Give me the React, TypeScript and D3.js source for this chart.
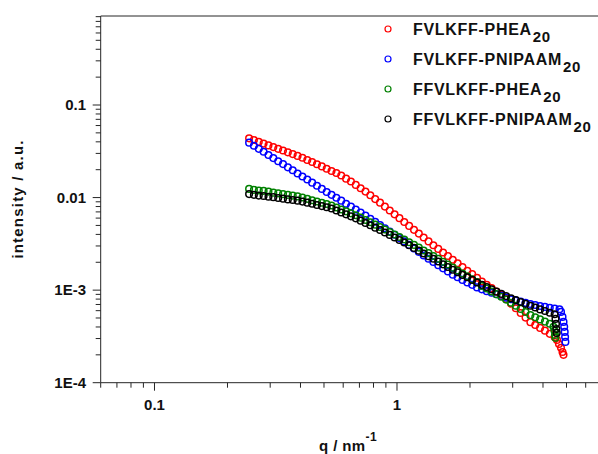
import React from "react";
import * as d3 from "d3";

// shared q grid (nm^-1)
const qGrid = [0.2455, 0.2570, 0.2692, 0.2818, 0.2951, 0.3090, 0.3236, 0.3388, 0.3548, 0.3715, 0.3890, 0.4074, 0.4266, 0.4467, 0.4677, 0.4898, 0.5129, 0.5370, 0.5623, 0.5888, 0.6166, 0.6457, 0.6761, 0.7079, 0.7413, 0.7762, 0.8128, 0.8511, 0.8913, 0.9333, 0.9772, 1.0233, 1.0715, 1.1220, 1.1749, 1.2303, 1.2882, 1.3490, 1.4125, 1.4791, 1.5488, 1.6218, 1.6982, 1.7783, 1.8621, 1.9498, 2.0417, 2.1380, 2.2387, 2.3442, 2.4547, 2.5704, 2.6915, 2.8184, 2.9512, 3.0903, 3.2359, 3.3884, 3.5481, 3.7154, 3.8905, 4.0738, 4.2658, 4.4668, 4.6774];

const redI = [0.0436, 0.0418, 0.0400, 0.0383, 0.0366, 0.0351, 0.0336, 0.0322, 0.0308, 0.0295, 0.0282, 0.0269, 0.0255, 0.0242, 0.0229, 0.0217, 0.0205, 0.0194, 0.0184, 0.0173, 0.0160, 0.0149, 0.0137, 0.0126, 0.0116, 0.0106, 0.00963, 0.00881, 0.00799, 0.00726, 0.00659, 0.00599, 0.00544, 0.00494, 0.00448, 0.00408, 0.00370, 0.00336, 0.00305, 0.00279, 0.00255, 0.00234, 0.00213, 0.00195, 0.00178, 0.00162, 0.00149, 0.00136, 0.00124, 0.00114, 0.00105, 0.000968, 0.000892, 0.000804, 0.000715, 0.000638, 0.000567, 0.000505, 0.000451, 0.000420, 0.000391, 0.000365, 0.000337, 0.000312];
const redTailQ = [4.569, 4.656, 4.746, 4.814, 4.860];
const redTailI = [0.000290, 0.000262, 0.000238, 0.000215, 0.000200];

const blueI = [0.0392, 0.0363, 0.0336, 0.0312, 0.0288, 0.0267, 0.0247, 0.0230, 0.0212, 0.0197, 0.0182, 0.0169, 0.0157, 0.0145, 0.0134, 0.0124, 0.0115, 0.0107, 0.00995, 0.00926, 0.00859, 0.00801, 0.00744, 0.00689, 0.00638, 0.00590, 0.00547, 0.00506, 0.00466, 0.00429, 0.00396, 0.00365, 0.00336, 0.00308, 0.00282, 0.00259, 0.00237, 0.00218, 0.00201, 0.00186, 0.00172, 0.00159, 0.00147, 0.00138, 0.00129, 0.00121, 0.00114, 0.00107, 0.00102, 0.000975, 0.000937, 0.000901, 0.000866, 0.000830, 0.000797, 0.000774, 0.000751, 0.000729, 0.000708, 0.000692, 0.000675, 0.000659, 0.000646, 0.000633, 0.000621];
const blueTailQ = [4.746, 4.814, 4.860, 4.892, 4.915, 4.934, 4.948];
const blueTailI = [0.000582, 0.000514, 0.000454, 0.000401, 0.000354, 0.000312, 0.000276];

const greenI = [0.0124, 0.0121, 0.0119, 0.0118, 0.0116, 0.0113, 0.0111, 0.0109, 0.0107, 0.0105, 0.0103, 0.0100, 0.00968, 0.00937, 0.00908, 0.00879, 0.00851, 0.00820, 0.00780, 0.00744, 0.00710, 0.00675, 0.00643, 0.00607, 0.00573, 0.00541, 0.00510, 0.00481, 0.00452, 0.00425, 0.00399, 0.00375, 0.00352, 0.00329, 0.00308, 0.00288, 0.00268, 0.00251, 0.00234, 0.00218, 0.00202, 0.00189, 0.00175, 0.00163, 0.00151, 0.00141, 0.00131, 0.00122, 0.00111, 0.00104, 0.000968, 0.000905, 0.000847, 0.000790, 0.000731, 0.000677, 0.000627, 0.000580, 0.000537, 0.000510, 0.000483, 0.000457, 0.000433];
const greenTailQ = [4.420, 4.462, 4.483, 4.500];
const greenTailI = [0.000401, 0.000363, 0.000328, 0.000305];

const blackI = [0.0109, 0.0107, 0.0105, 0.0104, 0.0102, 0.0101, 0.00988, 0.00973, 0.00956, 0.00942, 0.00926, 0.00905, 0.00881, 0.00857, 0.00832, 0.00809, 0.00787, 0.00761, 0.00724, 0.00690, 0.00659, 0.00627, 0.00596, 0.00563, 0.00532, 0.00502, 0.00473, 0.00447, 0.00420, 0.00395, 0.00370, 0.00348, 0.00327, 0.00305, 0.00286, 0.00267, 0.00249, 0.00233, 0.00218, 0.00204, 0.00190, 0.00178, 0.00166, 0.00156, 0.00146, 0.00138, 0.00129, 0.00121, 0.00114, 0.00108, 0.00102, 0.000963, 0.000912, 0.000862, 0.000815, 0.000780, 0.000744, 0.000711, 0.000678, 0.000649, 0.000619, 0.000595, 0.000570, 0.000548];
const blackTailQ = [4.504, 4.525, 4.542, 4.556];
const blackTailI = [0.000489, 0.000432, 0.000381, 0.000345];

const seriesNames = ["FVLKFF-PHEA", "FVLKFF-PNIPAAM", "FFVLKFF-PHEA", "FFVLKFF-PNIPAAM"];
const seriesSub = ["20", "20", "20", "20"];
const seriesColors = ["#ff0000", "#0000ff", "#008000", "#000000"];

const xMajor = [0.1, 1];
const yMajor = [1e-4, 1e-3, 0.01, 0.1];
const yTickLabels = ["1E-4", "1E-3", "0.01", "0.1"];
const xTickLabels = ["0.1", "1"];

const FONT = "'Liberation Sans', Arial, Helvetica, sans-serif";

function build(mainI: number[], tailQ: number[], tailI: number[]) {
  const pts = mainI.map((v, i) => ({ q: qGrid[i], I: v }));
  tailQ.forEach((q, i) => pts.push({ q, I: tailI[i] }));
  return pts;
}

export default function App() {
  const W = 598, H = 454;
  const top = 16;
  const x = d3.scaleLog().domain([0.06, 10]).range([100.7, 639.5]);
  const y = d3.scaleLog().domain([1e-4, 0.1]).range([382.7, 105]);
  const left = x(0.06);
  const bottom = y(1e-4);

  const data = [
    build(redI, redTailQ, redTailI),
    build(blueI, blueTailQ, blueTailI),
    build(greenI, greenTailQ, greenTailI),
    build(blackI, blackTailQ, blackTailI),
  ];

  const xTicks = x.ticks().filter((t) => x(t) <= W + 1);
  const yTicks = d3.scaleLog().domain([1e-4, y.invert(top)]).ticks().filter((t) => y(t) >= top - 0.5);
  const isMajor = (t: number) => Math.abs(Math.log10(t) - Math.round(Math.log10(t))) < 1e-6;
  const axisColor = "#262626";

  return (
    <svg width={W} height={H} style={{ position: "absolute", left: 0, top: 0, background: "#fff" }} fontFamily={FONT}>
      <rect x={0} y={0} width={W} height={H} fill="#fff" />
      {/* data */}
      <g>
        {data.map((pts, si) => (
          <g key={si} stroke={seriesColors[si]} fill="none" strokeWidth={1.5}>
            {pts.map((p, i) => (
              <circle key={i} cx={x(p.q)} cy={y(p.I)} r={3.3} />
            ))}
          </g>
        ))}
      </g>
      {/* frame */}
      <line x1={left} x2={W} y1={top} y2={top} stroke={axisColor} strokeWidth={1} />
      <line x1={left} x2={left} y1={top} y2={bottom} stroke={axisColor} strokeWidth={1} />
      <line x1={left} x2={W} y1={bottom} y2={bottom} stroke={axisColor} strokeWidth={1} />
      {/* x ticks */}
      {xTicks.map((t, i) => (
        <line key={i} x1={x(t)} x2={x(t)} y1={bottom} y2={bottom + (isMajor(t) ? 8 : 5)} stroke={axisColor} strokeWidth={1} />
      ))}
      {xMajor.map((t, i) => (
        <text key={i} x={x(t)} y={410} textAnchor="middle" fontSize={15} fontWeight="bold" fill="#111">
          {xTickLabels[i]}
        </text>
      ))}
      {/* y ticks */}
      {yTicks.map((t, i) => (
        <line key={i} x1={left - (isMajor(t) ? 8 : 5)} x2={left} y1={y(t)} y2={y(t)} stroke={axisColor} strokeWidth={1} />
      ))}
      {yMajor.map((t, i) => (
        <text key={i} x={86} y={y(t) + 5.3} textAnchor="end" fontSize={15} fontWeight="bold" fill="#111">
          {yTickLabels[i]}
        </text>
      ))}
      {/* axis titles */}
      <text transform={`translate(23,199) rotate(-90)`} textAnchor="middle" fontSize={15} fontWeight="bold" letterSpacing={1.2} fill="#111">
        intensity / a.u.
      </text>
      <text x={319} y={451} fontSize={15} fontWeight="bold" fill="#111" letterSpacing={0.4}>
        q / nm<tspan dy={-10} fontSize={12}>-1</tspan>
      </text>
      {/* legend */}
      {seriesNames.map((name, i) => {
        const by = 35 + i * 30;
        return (
          <g key={i}>
            <circle cx={388} cy={by - 6} r={3} fill="none" stroke={seriesColors[i]} strokeWidth={1.2} />
            <text x={413} y={by} fontSize={16} fontWeight="bold" letterSpacing={0.7} fill="#111">
              {name}
              <tspan dx={1} dy={6.5} fontSize={15}>{seriesSub[i]}</tspan>
            </text>
          </g>
        );
      })}
    </svg>
  );
}
